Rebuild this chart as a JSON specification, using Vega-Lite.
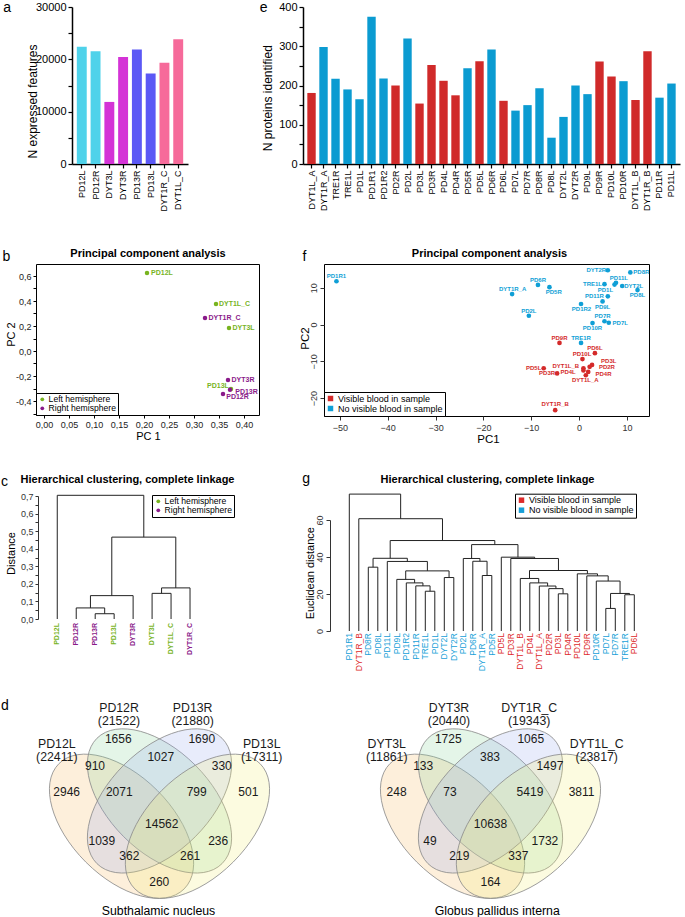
{
  "$schema": "https://vega.github.io/schema/vega-lite/v6.json",
  "padding": 0,
  "background": "white",
  "config": {
    "font": "Liberation Sans",
    "view": {"stroke": null},
    "axis": {"grid": false, "labelColor": "#000", "titleColor": "#000", "tickColor": "#000", "domainColor": "#000", "titleFontWeight": "normal", "labelOverlap": false},
    "legend": {"labelColor": "#000", "labelLimit": 300}
  },
  "columns": 4,
  "spacing": 0,
  "align": "each",
  "bounds": "flush",
  "resolve": {"scale": {"color": "independent", "fill": "independent"}, "legend": {"color": "independent", "fill": "independent"}},
  "concat": [
    {"width": 36, "height": 6, "data": {"values": [{"z": 0}]}, "mark": {"type": "point", "opacity": 0}},
    {"width": 1, "height": 6, "data": {"values": [{"z": 0}]}, "mark": {"type": "point", "opacity": 0}},
    {"width": 38, "height": 6, "data": {"values": [{"z": 0}]}, "mark": {"type": "point", "opacity": 0}},
    {"width": 1, "height": 6, "data": {"values": [{"z": 0}]}, "mark": {"type": "point", "opacity": 0}},

    {"width": 36, "height": 1, "data": {"values": [{"z": 0}]}, "mark": {"type": "point", "opacity": 0}},
    {
      "width": 152, "height": 157,
      "data": {"values": [
        {"sample": "PD12L", "n": 22411, "grp": "PD12"},
        {"sample": "PD12R", "n": 21522, "grp": "PD12"},
        {"sample": "DYT3L", "n": 11861, "grp": "DYT3"},
        {"sample": "DYT3R", "n": 20440, "grp": "DYT3"},
        {"sample": "PD13R", "n": 21880, "grp": "PD13"},
        {"sample": "PD13L", "n": 17311, "grp": "PD13"},
        {"sample": "DYT1R_C", "n": 19343, "grp": "DYT1_C"},
        {"sample": "DYT1L_C", "n": 23817, "grp": "DYT1_C"}
      ]},
      "mark": {"type": "bar"},
      "encoding": {
        "x": {"field": "sample", "type": "nominal", "sort": null,
          "scale": {"range": [36, 152], "paddingInner": 0.28, "paddingOuter": 0.35},
          "axis": {"labelAngle": -90, "labelFontSize": 9, "tickSize": 4, "tickWidth": 1.2, "domainWidth": 1.5, "labelPadding": 2,
            "title": "a", "titleFontSize": 14, "titleAngle": 0, "titleX": -33.3, "titleY": -153, "titleAlign": "left", "titleBaseline": "alphabetic"}},
        "y": {"field": "n", "type": "quantitative", "scale": {"domain": [0, 30000], "nice": false},
          "axis": {"offset": -36, "values": [0, 5000, 10000, 15000, 20000, 25000, 30000], "labelExpr": "datum.value % 10000 == 0 ? '' + datum.value : ''",
            "labelFontSize": 11, "tickSize": 4, "tickWidth": 1.2, "domainWidth": 1.5, "labelPadding": 2,
            "title": "N expressed features", "titleFontSize": 12, "titleAngle": 270, "titleX": -40, "titleY": 94, "titleAlign": "center", "titleBaseline": "middle"}},
        "color": {"field": "grp", "type": "nominal",
          "scale": {"domain": ["PD12", "DYT3", "PD13", "DYT1_C"], "range": ["#4fd2ea", "#d433d6", "#5b58f5", "#f66a9a"]}, "legend": null}
      }
    },
    {"width": 38, "height": 1, "data": {"values": [{"z": 0}]}, "mark": {"type": "point", "opacity": 0}},
    {
      "width": 356, "height": 157,
      "data": {"values": [
        {"sample": "DYT1L_A", "n": 181, "blood": "Visible blood in sample"},
        {"sample": "DYT1R_A", "n": 298, "blood": "No visible blood in sample"},
        {"sample": "TRE1R", "n": 217, "blood": "No visible blood in sample"},
        {"sample": "TRE1L", "n": 190, "blood": "No visible blood in sample"},
        {"sample": "PD1L", "n": 165, "blood": "No visible blood in sample"},
        {"sample": "PD1R1", "n": 375, "blood": "No visible blood in sample"},
        {"sample": "PD1R2", "n": 218, "blood": "No visible blood in sample"},
        {"sample": "PD2R", "n": 200, "blood": "Visible blood in sample"},
        {"sample": "PD2L", "n": 320, "blood": "No visible blood in sample"},
        {"sample": "PD3L", "n": 154, "blood": "Visible blood in sample"},
        {"sample": "PD3R", "n": 252, "blood": "Visible blood in sample"},
        {"sample": "PD4L", "n": 212, "blood": "Visible blood in sample"},
        {"sample": "PD4R", "n": 175, "blood": "Visible blood in sample"},
        {"sample": "PD5R", "n": 244, "blood": "No visible blood in sample"},
        {"sample": "PD5L", "n": 262, "blood": "Visible blood in sample"},
        {"sample": "PD6R", "n": 292, "blood": "No visible blood in sample"},
        {"sample": "PD6L", "n": 161, "blood": "Visible blood in sample"},
        {"sample": "PD7L", "n": 136, "blood": "No visible blood in sample"},
        {"sample": "PD7R", "n": 150, "blood": "No visible blood in sample"},
        {"sample": "PD8R", "n": 193, "blood": "No visible blood in sample"},
        {"sample": "PD8L", "n": 67, "blood": "No visible blood in sample"},
        {"sample": "DYT2L", "n": 120, "blood": "No visible blood in sample"},
        {"sample": "DYT2R", "n": 200, "blood": "No visible blood in sample"},
        {"sample": "PD9L", "n": 178, "blood": "No visible blood in sample"},
        {"sample": "PD9R", "n": 261, "blood": "Visible blood in sample"},
        {"sample": "PD10L", "n": 223, "blood": "Visible blood in sample"},
        {"sample": "PD10R", "n": 211, "blood": "No visible blood in sample"},
        {"sample": "DYT1L_B", "n": 163, "blood": "Visible blood in sample"},
        {"sample": "DYT1R_B", "n": 287, "blood": "Visible blood in sample"},
        {"sample": "PD11R", "n": 169, "blood": "No visible blood in sample"},
        {"sample": "PD11L", "n": 205, "blood": "No visible blood in sample"}
      ]},
      "mark": {"type": "bar"},
      "encoding": {
        "x": {"field": "sample", "type": "nominal", "sort": null,
          "scale": {"range": [-21, 356], "paddingInner": 0.3, "paddingOuter": 0.36},
          "axis": {"labelAngle": -90, "labelFontSize": 9, "tickSize": 4, "tickWidth": 1.2, "domainWidth": 1.5, "labelPadding": 2,
            "title": "e", "titleFontSize": 14, "titleAngle": 0, "titleX": -64.7, "titleY": -153, "titleAlign": "left", "titleBaseline": "alphabetic"}},
        "y": {"field": "n", "type": "quantitative", "scale": {"domain": [0, 400], "nice": false},
          "axis": {"offset": 21, "values": [0, 50, 100, 150, 200, 250, 300, 350, 400], "labelExpr": "datum.value % 100 == 0 ? '' + datum.value : ''",
            "labelFontSize": 11, "tickSize": 4, "tickWidth": 1.2, "domainWidth": 1.5, "labelPadding": 2,
            "title": "N proteins identified", "titleFontSize": 12, "titleAngle": 270, "titleX": -35.5, "titleY": 90.7, "titleAlign": "center", "titleBaseline": "middle"}},
        "color": {"field": "blood", "type": "nominal",
          "scale": {"domain": ["Visible blood in sample", "No visible blood in sample"], "range": ["#d02a2a", "#0b9bd1"]}, "legend": null}
      }
    },

    {"width": 36, "height": 100, "data": {"values": [{"z": 0}]}, "mark": {"type": "point", "opacity": 0}},
    {"width": 1, "height": 100, "data": {"values": [{"z": 0}]}, "mark": {"type": "point", "opacity": 0}},
    {"width": 38, "height": 100, "data": {"values": [{"z": 0}]}, "mark": {"type": "point", "opacity": 0}},
    {"width": 1, "height": 100, "data": {"values": [{"z": 0}]}, "mark": {"type": "point", "opacity": 0}},

    {"width": 36, "height": 1, "data": {"values": [{"z": 0}]}, "mark": {"type": "point", "opacity": 0}},
    {
      "width": 223, "height": 151,
      "view": {"stroke": "#000", "strokeWidth": 1},
      "data": {"values": [
        {"s": "PD12L", "pc1": 0.206, "pc2": 0.624, "lx": 0.236, "ly": 0.626, "hemi": "Left hemisphere"},
        {"s": "DYT1L_C", "pc1": 0.344, "pc2": 0.376, "lx": 0.381, "ly": 0.378, "hemi": "Left hemisphere"},
        {"s": "DYT1R_C", "pc1": 0.322, "pc2": 0.264, "lx": 0.361, "ly": 0.266, "hemi": "Right hemisphere"},
        {"s": "DYT3L", "pc1": 0.370, "pc2": 0.184, "lx": 0.399, "ly": 0.184, "hemi": "Left hemisphere"},
        {"s": "DYT3R", "pc1": 0.368, "pc2": -0.232, "lx": 0.398, "ly": -0.232, "hemi": "Right hemisphere"},
        {"s": "PD13L", "pc1": 0.374, "pc2": -0.304, "lx": 0.348, "ly": -0.283, "hemi": "Left hemisphere"},
        {"s": "PD13R", "pc1": 0.372, "pc2": -0.310, "lx": 0.405, "ly": -0.325, "hemi": "Right hemisphere"},
        {"s": "PD12R", "pc1": 0.358, "pc2": -0.344, "lx": 0.387, "ly": -0.368, "hemi": "Right hemisphere"}
      ]},
      "layer": [
        {
          "mark": {"type": "point", "filled": true, "size": 20, "opacity": 1},
          "encoding": {
            "x": {"field": "pc1", "type": "quantitative", "scale": {"domain": [-0.016, 0.43], "nice": false, "zero": false},
              "axis": {"orient": "bottom", "values": [0, 0.05, 0.1, 0.15, 0.2, 0.25, 0.3, 0.35, 0.4],
                "labelExpr": "replace(format(datum.value, '.2f'), '.', ',')", "domain": false, "tickSize": 3, "labelFontSize": 9, "labelColor": "#222", "labelPadding": 2,
                "title": "PC 1", "titleFontSize": 11, "titleX": 112, "titleY": 21, "titleAlign": "center", "titleBaseline": "middle"}},
            "y": {"field": "pc2", "type": "quantitative", "scale": {"domain": [-0.512, 0.696], "nice": false, "zero": false},
              "axis": {"orient": "left", "values": [-0.5, -0.4, -0.3, -0.2, -0.1, 0, 0.1, 0.2, 0.3, 0.4, 0.5, 0.6],
                "labelExpr": "abs(round(datum.value * 10)) % 2 == 0 ? replace(replace(format(datum.value, '.1f'), '.', ','), '\u2212', '-') : ''",
                "domain": false, "tickSize": 3, "labelFontSize": 9, "labelColor": "#222", "labelPadding": 2,
                "title": "PC 2", "titleFontSize": 11, "titleAngle": 270, "titleX": -24.3, "titleY": 70, "titleAlign": "center", "titleBaseline": "middle"}},
            "color": {"field": "hemi", "type": "nominal",
              "scale": {"domain": ["Left hemisphere", "Right hemisphere"], "range": ["#78b41f", "#8a1a8a"]},
              "legend": {"orient": "bottom-left", "offset": 0, "title": null, "strokeColor": "#000", "fillColor": "#fff", "padding": 2, "labelFontSize": 8.6, "symbolType": "circle", "symbolSize": 14, "rowPadding": 0, "labelOffset": 2}}
          }
        },
        {
          "mark": {"type": "text", "fontSize": 7, "fontWeight": "bold"},
          "encoding": {
            "x": {"field": "lx", "type": "quantitative", "scale": {"domain": [-0.016, 0.43], "nice": false, "zero": false},
              "axis": {"orient": "top", "domain": false, "ticks": false, "labels": false, "title": "Principal component analysis", "titleFontSize": 11, "titleFontWeight": "bold", "titleX": 111.5, "titleY": -8, "titleAlign": "center", "titleBaseline": "alphabetic"}},
            "y": {"field": "ly", "type": "quantitative", "scale": {"domain": [-0.512, 0.696], "nice": false, "zero": false},
              "axis": {"orient": "right", "domain": false, "ticks": false, "labels": false, "title": "b", "titleFontSize": 14, "titleAngle": 0, "titleX": -257, "titleY": -4, "titleAlign": "left", "titleBaseline": "alphabetic"}},
            "text": {"field": "s"},
            "color": {"field": "hemi", "type": "nominal"}
          }
        }
      ],
      "resolve": {"axis": {"x": "independent", "y": "independent"}}
    },
    {"width": 38, "height": 1, "data": {"values": [{"z": 0}]}, "mark": {"type": "point", "opacity": 0}},
    {
      "width": 325, "height": 152,
      "view": {"stroke": "#000", "strokeWidth": 1},
      "data": {"values": [
        {"s": "PD1R1", "pc1": -50.7, "pc2": 11.8, "lx": -50.7, "ly": 13.1, "blood": "No visible blood in sample"},
        {"s": "PD6R", "pc1": -8.6, "pc2": 10.8, "lx": -8.6, "ly": 12.1, "blood": "No visible blood in sample"},
        {"s": "PD5R", "pc1": -6.2, "pc2": 10.2, "lx": -5.3, "ly": 9.0, "blood": "No visible blood in sample"},
        {"s": "DYT1R_A", "pc1": -14.0, "pc2": 8.3, "lx": -13.9, "ly": 9.8, "blood": "No visible blood in sample"},
        {"s": "PD2L", "pc1": -10.5, "pc2": 2.4, "lx": -10.5, "ly": 3.8, "blood": "No visible blood in sample"},
        {"s": "DYT2R", "pc1": 6.0, "pc2": 14.8, "lx": 3.6, "ly": 14.8, "blood": "No visible blood in sample"},
        {"s": "PD8R", "pc1": 10.7, "pc2": 14.2, "lx": 13.0, "ly": 14.2, "blood": "No visible blood in sample"},
        {"s": "TRE1L", "pc1": 5.3, "pc2": 11.0, "lx": 2.8, "ly": 11.0, "blood": "No visible blood in sample"},
        {"s": "PD11L", "pc1": 7.7, "pc2": 11.4, "lx": 8.3, "ly": 12.7, "blood": "No visible blood in sample"},
        {"s": "PD1L", "pc1": 7.4, "pc2": 10.9, "lx": 5.5, "ly": 9.4, "blood": "No visible blood in sample"},
        {"s": "DYT2L", "pc1": 9.0, "pc2": 10.5, "lx": 11.4, "ly": 10.4, "blood": "No visible blood in sample"},
        {"s": "PD8L", "pc1": 12.2, "pc2": 9.4, "lx": 12.2, "ly": 8.1, "blood": "No visible blood in sample"},
        {"s": "PD11R", "pc1": 6.0, "pc2": 7.7, "lx": 3.2, "ly": 7.8, "blood": "No visible blood in sample"},
        {"s": "PD9L", "pc1": 4.9, "pc2": 6.3, "lx": 4.9, "ly": 4.9, "blood": "No visible blood in sample"},
        {"s": "PD1R2", "pc1": 0.4, "pc2": 5.6, "lx": 0.5, "ly": 4.2, "blood": "No visible blood in sample"},
        {"s": "PD7R", "pc1": 5.3, "pc2": 0.9, "lx": 4.9, "ly": 2.3, "blood": "No visible blood in sample"},
        {"s": "PD7L", "pc1": 6.2, "pc2": 0.5, "lx": 8.6, "ly": 0.5, "blood": "No visible blood in sample"},
        {"s": "PD10R", "pc1": 2.8, "pc2": 0.4, "lx": 2.8, "ly": -0.9, "blood": "No visible blood in sample"},
        {"s": "TRE1R", "pc1": 0.4, "pc2": -5.0, "lx": 0.4, "ly": -3.6, "blood": "No visible blood in sample"},
        {"s": "PD9R", "pc1": -4.1, "pc2": -5.0, "lx": -4.1, "ly": -3.6, "blood": "Visible blood in sample"},
        {"s": "PD6L", "pc1": 3.3, "pc2": -7.8, "lx": 3.3, "ly": -6.3, "blood": "Visible blood in sample"},
        {"s": "PD10L", "pc1": 0.7, "pc2": -9.4, "lx": 0.6, "ly": -8.1, "blood": "Visible blood in sample"},
        {"s": "PD3L", "pc1": 2.7, "pc2": -11.0, "lx": 6.2, "ly": -10.0, "blood": "Visible blood in sample"},
        {"s": "PD2R", "pc1": 2.2, "pc2": -11.5, "lx": 5.8, "ly": -11.6, "blood": "Visible blood in sample"},
        {"s": "DYT1L_B", "pc1": 0.9, "pc2": -11.9, "lx": -2.8, "ly": -11.3, "blood": "Visible blood in sample"},
        {"s": "PD4L", "pc1": 0.9, "pc2": -12.5, "lx": -2.3, "ly": -12.9, "blood": "Visible blood in sample"},
        {"s": "PD4R", "pc1": 1.9, "pc2": -12.9, "lx": 5.1, "ly": -13.5, "blood": "Visible blood in sample"},
        {"s": "DYT1L_A", "pc1": 1.4, "pc2": -13.8, "lx": 1.3, "ly": -15.0, "blood": "Visible blood in sample"},
        {"s": "PD5L", "pc1": -7.4, "pc2": -11.9, "lx": -9.5, "ly": -11.9, "blood": "Visible blood in sample"},
        {"s": "PD3R", "pc1": -4.6, "pc2": -13.3, "lx": -6.7, "ly": -13.3, "blood": "Visible blood in sample"},
        {"s": "DYT1R_B", "pc1": -5.0, "pc2": -23.3, "lx": -5.0, "ly": -21.7, "blood": "Visible blood in sample"}
      ]},
      "layer": [
        {
          "mark": {"type": "point", "filled": true, "size": 22, "opacity": 1},
          "encoding": {
            "x": {"field": "pc1", "type": "quantitative", "scale": {"domain": [-53.3, 14.6], "nice": false, "zero": false},
              "axis": {"orient": "bottom", "values": [-50, -40, -30, -20, -10, 0, 10], "domain": false, "tickSize": 4, "tickColor": "#333", "labelFontSize": 9, "labelColor": "#333", "labelPadding": 3,
                "title": "PC1", "titleFontSize": 11.5, "titleX": 164, "titleY": 23, "titleAlign": "center", "titleBaseline": "middle"}},
            "y": {"field": "pc2", "type": "quantitative", "scale": {"domain": [-24.9, 16.5], "nice": false, "zero": false},
              "axis": {"orient": "left", "values": [-20, -10, 0, 10], "domain": false, "tickSize": 4, "tickColor": "#333", "labelAngle": -90, "labelFontSize": 9, "labelColor": "#333", "labelPadding": 2,
                "title": "PC2", "titleFontSize": 11.5, "titleAngle": 270, "titleX": -19, "titleY": 74, "titleAlign": "center", "titleBaseline": "middle"}},
            "color": {"field": "blood", "type": "nominal",
              "scale": {"domain": ["Visible blood in sample", "No visible blood in sample"], "range": ["#d42a2a", "#0f9fd6"]},
              "legend": {"orient": "bottom-left", "offset": 0, "title": null, "strokeColor": "#000", "fillColor": "#fff", "padding": 2, "labelFontSize": 9, "symbolType": "square", "symbolSize": 30, "rowPadding": 0, "labelOffset": 3}}
          }
        },
        {
          "mark": {"type": "text", "fontSize": 6, "fontWeight": "bold"},
          "encoding": {
            "x": {"field": "lx", "type": "quantitative", "scale": {"domain": [-53.3, 14.6], "nice": false, "zero": false},
              "axis": {"orient": "top", "domain": false, "ticks": false, "labels": false, "title": "Principal component analysis", "titleFontSize": 11, "titleFontWeight": "bold", "titleX": 165, "titleY": -8, "titleAlign": "center", "titleBaseline": "alphabetic"}},
            "y": {"field": "ly", "type": "quantitative", "scale": {"domain": [-24.9, 16.5], "nice": false, "zero": false},
              "axis": {"orient": "right", "domain": false, "ticks": false, "labels": false, "title": "f", "titleFontSize": 14, "titleAngle": 0, "titleX": -347, "titleY": -4, "titleAlign": "left", "titleBaseline": "alphabetic"}},
            "text": {"field": "s"},
            "color": {"field": "blood", "type": "nominal"}
          }
        }
      ],
      "resolve": {"axis": {"x": "independent", "y": "independent"}}
    },

    {"width": 36, "height": 80, "data": {"values": [{"z": 0}]}, "mark": {"type": "point", "opacity": 0}},
    {"width": 1, "height": 80, "data": {"values": [{"z": 0}]}, "mark": {"type": "point", "opacity": 0}},
    {"width": 38, "height": 80, "data": {"values": [{"z": 0}]}, "mark": {"type": "point", "opacity": 0}},
    {"width": 1, "height": 80, "data": {"values": [{"z": 0}]}, "mark": {"type": "point", "opacity": 0}},

    {"width": 36, "height": 1, "data": {"values": [{"z": 0}]}, "mark": {"type": "point", "opacity": 0}},
    {
      "width": 180, "height": 123,
      "layer": [
        {
          "data": {"values": [
            {"xl": 2, "xr": 3, "hl": 0, "hr": 0, "h": 0.030},
            {"xl": 1, "xr": 2.5, "hl": 0, "hr": 0.030, "h": 0.063},
            {"xl": 1.75, "xr": 4, "hl": 0.063, "hr": 0, "h": 0.133},
            {"xl": 5, "xr": 6, "hl": 0, "hr": 0, "h": 0.146},
            {"xl": 5.5, "xr": 7, "hl": 0.146, "hr": 0, "h": 0.177},
            {"xl": 2.875, "xr": 6.25, "hl": 0.133, "hr": 0.177, "h": 0.466},
            {"xl": 0, "xr": 4.5625, "hl": 0, "hr": 0.466, "h": 0.704}
          ]},
          "layer": [
            {
              "mark": {"type": "rule", "color": "#222", "strokeWidth": 1},
              "encoding": {
                "x": {"field": "xl", "type": "quantitative", "scale": {"domain": [-1.121, 8.37], "nice": false, "zero": false},
                  "axis": {"orient": "bottom", "domain": false, "ticks": false, "labels": false, "title": "c", "titleFontSize": 14, "titleAngle": 0, "titleX": -35.5, "titleY": -134, "titleAlign": "left", "titleBaseline": "alphabetic"}},
                "x2": {"field": "xr"},
                "y": {"field": "h", "type": "quantitative", "scale": {"domain": [0, 0.7], "nice": false, "zero": false},
                  "axis": {"orient": "left", "offset": -2, "values": [0, 0.05, 0.1, 0.15, 0.2, 0.25, 0.3, 0.35, 0.4, 0.45, 0.5, 0.55, 0.6, 0.65, 0.7],
                    "labelExpr": "round(datum.value * 100) % 10 == 0 ? replace(format(datum.value, '.1f'), '.', ',') : ''",
                    "labelFontSize": 9, "labelColor": "#333", "tickSize": 3, "tickColor": "#333", "domainColor": "#333", "labelPadding": 2,
                    "title": "Distance", "titleFontSize": 11, "titleAngle": 270, "titleX": -26.3, "titleY": 57, "titleAlign": "center", "titleBaseline": "middle"}}
              }
            },
            {
              "mark": {"type": "rule", "color": "#222", "strokeWidth": 1},
              "encoding": {
                "x": {"field": "xl", "type": "quantitative", "scale": {"domain": [-1.121, 8.37], "nice": false, "zero": false}, "axis": null},
                "y": {"field": "hl", "type": "quantitative", "scale": {"domain": [0, 0.7], "nice": false, "zero": false}, "axis": null},
                "y2": {"field": "h"}
              }
            },
            {
              "mark": {"type": "rule", "color": "#222", "strokeWidth": 1},
              "encoding": {
                "x": {"field": "xr", "type": "quantitative", "scale": {"domain": [-1.121, 8.37], "nice": false, "zero": false}, "axis": null},
                "y": {"field": "hr", "type": "quantitative", "scale": {"domain": [0, 0.7], "nice": false, "zero": false}, "axis": null},
                "y2": {"field": "h"}
              }
            }
          ],
          "resolve": {"axis": {"x": "independent", "y": "independent"}}
        },
        {
          "data": {"values": [
            {"i": 0, "name": "PD12L", "hemi": "Left hemisphere"},
            {"i": 1, "name": "PD12R", "hemi": "Right hemisphere"},
            {"i": 2, "name": "PD13R", "hemi": "Right hemisphere"},
            {"i": 3, "name": "PD13L", "hemi": "Left hemisphere"},
            {"i": 4, "name": "DYT3R", "hemi": "Right hemisphere"},
            {"i": 5, "name": "DYT3L", "hemi": "Left hemisphere"},
            {"i": 6, "name": "DYT1L_C", "hemi": "Left hemisphere"},
            {"i": 7, "name": "DYT1R_C", "hemi": "Right hemisphere"}
          ]},
          "mark": {"type": "text", "angle": 270, "align": "right", "baseline": "middle", "dx": -4, "fontSize": 7, "fontWeight": "bold"},
          "encoding": {
            "x": {"field": "i", "type": "quantitative", "scale": {"domain": [-1.121, 8.37], "nice": false, "zero": false},
              "axis": {"orient": "top", "domain": false, "ticks": false, "labels": false, "title": "Hierarchical clustering, complete linkage", "titleFontSize": 11, "titleFontWeight": "bold", "titleX": 91, "titleY": -14, "titleAlign": "center", "titleBaseline": "alphabetic"}},
            "y": {"datum": 0, "type": "quantitative", "axis": null},
            "text": {"field": "name"},
            "color": {"field": "hemi", "type": "nominal",
              "scale": {"domain": ["Left hemisphere", "Right hemisphere"], "range": ["#78b41f", "#8a1a8a"]},
              "legend": {"orient": "none", "legendX": 116, "legendY": -1, "title": null, "strokeColor": "#000", "padding": 2, "labelFontSize": 8.6, "symbolType": "circle", "symbolSize": 14, "rowPadding": 0, "labelOffset": 2}}
          }
        }
      ],
      "resolve": {"axis": {"x": "independent", "y": "independent"}}
    },
    {"width": 38, "height": 1, "data": {"values": [{"z": 0}]}, "mark": {"type": "point", "opacity": 0}},
    {
      "width": 320, "height": 135,
      "layer": [
        {
          "data": {"values": [
            {"xl": 8, "xr": 9, "hl": 0, "hr": 0, "h": 21.5},
            {"xl": 7, "xr": 8.5, "hl": 0, "hr": 21.5, "h": 24.4},
            {"xl": 6, "xr": 7.75, "hl": 0, "hr": 24.4, "h": 26.0},
            {"xl": 5, "xr": 6.875, "hl": 0, "hr": 26.0, "h": 27.9},
            {"xl": 10, "xr": 11, "hl": 0, "hr": 0, "h": 28.9},
            {"xl": 5.9375, "xr": 10.5, "hl": 27.9, "hr": 28.9, "h": 32.5},
            {"xl": 4, "xr": 8.21875, "hl": 0, "hr": 32.5, "h": 37.6},
            {"xl": 2, "xr": 3, "hl": 0, "hr": 0, "h": 34.5},
            {"xl": 2.5, "xr": 6.109, "hl": 34.5, "hr": 37.6, "h": 39.3},
            {"xl": 14, "xr": 15, "hl": 0, "hr": 0, "h": 30.0},
            {"xl": 13, "xr": 14.5, "hl": 0, "hr": 30.0, "h": 37.7},
            {"xl": 12, "xr": 13.75, "hl": 0, "hr": 37.7, "h": 39.2},
            {"xl": 22, "xr": 23, "hl": 0, "hr": 0, "h": 20.1},
            {"xl": 21, "xr": 22.5, "hl": 0, "hr": 20.1, "h": 22.9},
            {"xl": 20, "xr": 21.75, "hl": 0, "hr": 22.9, "h": 24.3},
            {"xl": 19, "xr": 20.875, "hl": 0, "hr": 24.3, "h": 26.0},
            {"xl": 18, "xr": 19.9375, "hl": 0, "hr": 26.0, "h": 28.4},
            {"xl": 27, "xr": 28, "hl": 0, "hr": 0, "h": 12.2},
            {"xl": 29, "xr": 30, "hl": 0, "hr": 0, "h": 19.6},
            {"xl": 27.5, "xr": 29.5, "hl": 12.2, "hr": 19.6, "h": 20.3},
            {"xl": 26, "xr": 28.5, "hl": 0, "hr": 20.3, "h": 27.0},
            {"xl": 25, "xr": 27.25, "hl": 0, "hr": 27.0, "h": 29.8},
            {"xl": 24, "xr": 26.125, "hl": 0, "hr": 29.8, "h": 30.9},
            {"xl": 18.969, "xr": 25.0625, "hl": 28.4, "hr": 30.9, "h": 32.7},
            {"xl": 17, "xr": 22.016, "hl": 0, "hr": 32.7, "h": 39.2},
            {"xl": 16, "xr": 19.508, "hl": 0, "hr": 39.2, "h": 39.9},
            {"xl": 12.875, "xr": 17.754, "hl": 39.2, "hr": 39.9, "h": 46.7},
            {"xl": 4.305, "xr": 15.315, "hl": 39.3, "hr": 46.7, "h": 48.9},
            {"xl": 1, "xr": 9.81, "hl": 0, "hr": 48.9, "h": 60.7},
            {"xl": 0, "xr": 5.405, "hl": 0, "hr": 60.7, "h": 74.0}
          ]},
          "layer": [
            {
              "mark": {"type": "rule", "color": "#222", "strokeWidth": 1},
              "encoding": {
                "x": {"field": "xl", "type": "quantitative", "scale": {"domain": [-2.663, 31.02], "nice": false, "zero": false},
                  "axis": {"orient": "bottom", "domain": false, "ticks": false, "labels": false, "title": "g", "titleFontSize": 14, "titleAngle": 0, "titleX": -22.3, "titleY": -149, "titleAlign": "left", "titleBaseline": "alphabetic"}},
                "x2": {"field": "xr"},
                "y": {"field": "h", "type": "quantitative", "scale": {"domain": [0, 60], "range": [135, 24], "nice": false, "zero": false},
                  "axis": {"orient": "left", "offset": -6, "values": [0, 20, 40, 60], "labelAngle": -90, "labelFontSize": 9, "labelColor": "#333", "tickSize": 4, "tickColor": "#333", "domainColor": "#333", "labelPadding": 2,
                    "title": "Euclidean distance", "titleFontSize": 11, "titleAngle": 270, "titleX": -20, "titleY": 76.7, "titleAlign": "center", "titleBaseline": "middle"}}
              }
            },
            {
              "mark": {"type": "rule", "color": "#222", "strokeWidth": 1},
              "encoding": {
                "x": {"field": "xl", "type": "quantitative", "scale": {"domain": [-2.663, 31.02], "nice": false, "zero": false}, "axis": null},
                "y": {"field": "hl", "type": "quantitative", "scale": {"domain": [0, 60], "range": [135, 24], "nice": false, "zero": false}, "axis": null},
                "y2": {"field": "h"}
              }
            },
            {
              "mark": {"type": "rule", "color": "#222", "strokeWidth": 1},
              "encoding": {
                "x": {"field": "xr", "type": "quantitative", "scale": {"domain": [-2.663, 31.02], "nice": false, "zero": false}, "axis": null},
                "y": {"field": "hr", "type": "quantitative", "scale": {"domain": [0, 60], "range": [135, 24], "nice": false, "zero": false}, "axis": null},
                "y2": {"field": "h"}
              }
            }
          ],
          "resolve": {"axis": {"x": "independent", "y": "independent"}}
        },
        {
          "data": {"values": [
            {"i": 0, "name": "PD1R1", "blood": "No visible blood in sample"},
            {"i": 1, "name": "DYT1R_B", "blood": "Visible blood in sample"},
            {"i": 2, "name": "PD8R", "blood": "No visible blood in sample"},
            {"i": 3, "name": "PD8L", "blood": "No visible blood in sample"},
            {"i": 4, "name": "PD11L", "blood": "No visible blood in sample"},
            {"i": 5, "name": "PD9L", "blood": "No visible blood in sample"},
            {"i": 6, "name": "PD1R2", "blood": "No visible blood in sample"},
            {"i": 7, "name": "PD11R", "blood": "No visible blood in sample"},
            {"i": 8, "name": "TRE1L", "blood": "No visible blood in sample"},
            {"i": 9, "name": "PD1L", "blood": "No visible blood in sample"},
            {"i": 10, "name": "DYT2L", "blood": "No visible blood in sample"},
            {"i": 11, "name": "DYT2R", "blood": "No visible blood in sample"},
            {"i": 12, "name": "PD2L", "blood": "No visible blood in sample"},
            {"i": 13, "name": "PD6R", "blood": "No visible blood in sample"},
            {"i": 14, "name": "DYT1R_A", "blood": "No visible blood in sample"},
            {"i": 15, "name": "PD5R", "blood": "No visible blood in sample"},
            {"i": 16, "name": "PD5L", "blood": "Visible blood in sample"},
            {"i": 17, "name": "PD3R", "blood": "Visible blood in sample"},
            {"i": 18, "name": "DYT1L_B", "blood": "Visible blood in sample"},
            {"i": 19, "name": "PD4L", "blood": "Visible blood in sample"},
            {"i": 20, "name": "DYT1L_A", "blood": "Visible blood in sample"},
            {"i": 21, "name": "PD2R", "blood": "Visible blood in sample"},
            {"i": 22, "name": "PD3L", "blood": "Visible blood in sample"},
            {"i": 23, "name": "PD4R", "blood": "Visible blood in sample"},
            {"i": 24, "name": "PD10L", "blood": "Visible blood in sample"},
            {"i": 25, "name": "PD9R", "blood": "Visible blood in sample"},
            {"i": 26, "name": "PD10R", "blood": "No visible blood in sample"},
            {"i": 27, "name": "PD7L", "blood": "No visible blood in sample"},
            {"i": 28, "name": "PD7R", "blood": "No visible blood in sample"},
            {"i": 29, "name": "TRE1R", "blood": "No visible blood in sample"},
            {"i": 30, "name": "PD6L", "blood": "Visible blood in sample"}
          ]},
          "mark": {"type": "text", "angle": 270, "align": "right", "baseline": "middle", "dx": -2, "fontSize": 8.5},
          "encoding": {
            "x": {"field": "i", "type": "quantitative", "scale": {"domain": [-2.663, 31.02], "nice": false, "zero": false},
              "axis": {"orient": "top", "domain": false, "ticks": false, "labels": false, "title": "Hierarchical clustering, complete linkage", "titleFontSize": 11, "titleFontWeight": "bold", "titleX": 163, "titleY": -14, "titleAlign": "center", "titleBaseline": "alphabetic"}},
            "y": {"datum": 0, "type": "quantitative", "scale": {"domain": [0, 60], "range": [135, 24], "nice": false, "zero": false}, "axis": null},
            "text": {"field": "name"},
            "color": {"field": "blood", "type": "nominal",
              "scale": {"domain": ["Visible blood in sample", "No visible blood in sample"], "range": ["#dd2a2a", "#179fd8"]},
              "legend": {"orient": "none", "legendX": 191, "legendY": -2.3, "title": null, "strokeColor": "#000", "padding": 2, "labelFontSize": 9, "symbolType": "square", "symbolSize": 30, "rowPadding": 0, "labelOffset": 3}}
          }
        }
      ],
      "resolve": {"axis": {"x": "independent", "y": "independent"}}
    },

    {"width": 36, "height": 61, "data": {"values": [{"z": 0}]}, "mark": {"type": "point", "opacity": 0}},
    {"width": 1, "height": 61, "data": {"values": [{"z": 0}]}, "mark": {"type": "point", "opacity": 0}},
    {"width": 38, "height": 61, "data": {"values": [{"z": 0}]}, "mark": {"type": "point", "opacity": 0}},
    {"width": 1, "height": 61, "data": {"values": [{"z": 0}]}, "mark": {"type": "point", "opacity": 0}},

    {"width": 36, "height": 1, "data": {"values": [{"z": 0}]}, "mark": {"type": "point", "opacity": 0}},
    {
      "width": 250, "height": 228,
      "layer": [
        {
          "data": {"values": [
            {"set": "PD12L", "slot": "1", "u": 0.35, "v": 0.47, "tilt": 45},
            {"set": "PD12R", "slot": "2", "u": 0.5, "v": 0.57, "tilt": 45},
            {"set": "PD13R", "slot": "3", "u": 0.5, "v": 0.57, "tilt": 135},
            {"set": "PD13L", "slot": "4", "u": 0.65, "v": 0.47, "tilt": 135}
          ]},
          "mark": {"type": "point", "shape": "M 1 0 C 1 0.3156 0.5523 0.5714 0 0.5714 C -0.5523 0.5714 -1 0.3156 -1 0 C -1 -0.3156 -0.5523 -0.5714 0 -0.5714 C 0.5523 -0.5714 1 -0.3156 1 0 Z",
            "size": 31364, "filled": true, "opacity": 1, "fillOpacity": 0.22, "stroke": "#8c8c8c", "strokeWidth": 0.8, "strokeOpacity": 1},
          "encoding": {
            "x": {"field": "u", "type": "quantitative", "scale": {"domain": [0.0119, 1], "nice": false, "zero": false},
              "axis": {"orient": "bottom", "domain": false, "ticks": false, "labels": false, "title": "Subthalamic nucleus", "titleFontSize": 12.3, "titleX": 122, "titleY": -6, "titleAlign": "center", "titleBaseline": "alphabetic"}},
            "y": {"field": "v", "type": "quantitative", "scale": {"domain": [0.1, 1.0], "nice": false, "zero": false},
              "axis": {"orient": "left", "domain": false, "ticks": false, "labels": false, "title": "d", "titleFontSize": 14, "titleAngle": 0, "titleX": -35.5, "titleY": 17, "titleAlign": "left", "titleBaseline": "alphabetic"}},
            "angle": {"field": "tilt", "type": "quantitative", "scale": null},
            "fill": {"field": "slot", "type": "nominal", "scale": {"domain": ["1", "2", "3", "4"], "range": ["#f4b45c", "#86d296", "#95a7ef", "#f0ee70"]}, "legend": null}
          }
        },
        {
          "data": {"values": [
            {"n": 2946, "u": 0.133, "v": 0.605},
            {"n": 1656, "u": 0.337, "v": 0.816},
            {"n": 1690, "u": 0.667, "v": 0.816},
            {"n": 501, "u": 0.851, "v": 0.605},
            {"n": 910, "u": 0.245, "v": 0.707},
            {"n": 1027, "u": 0.505, "v": 0.742},
            {"n": 330, "u": 0.746, "v": 0.707},
            {"n": 2071, "u": 0.341, "v": 0.605},
            {"n": 799, "u": 0.647, "v": 0.605},
            {"n": 14562, "u": 0.509, "v": 0.479},
            {"n": 1039, "u": 0.272, "v": 0.413},
            {"n": 236, "u": 0.732, "v": 0.413},
            {"n": 362, "u": 0.381, "v": 0.351},
            {"n": 261, "u": 0.621, "v": 0.351},
            {"n": 260, "u": 0.499, "v": 0.249}
          ]},
          "mark": {"type": "text", "fontSize": 12, "color": "#1a1a1a"},
          "encoding": {
            "x": {"field": "u", "type": "quantitative", "scale": {"domain": [0.0119, 1], "nice": false, "zero": false}, "axis": null},
            "y": {"field": "v", "type": "quantitative", "scale": {"domain": [0.1, 1.0], "nice": false, "zero": false}, "axis": null},
            "text": {"field": "n", "type": "quantitative", "format": "d"}
          }
        },
        {
          "data": {"values": [
            {"label": "PD12L\n(22411)", "u": 0.094, "v": 0.793},
            {"label": "PD12R\n(21522)", "u": 0.340, "v": 0.936},
            {"label": "PD13R\n(21880)", "u": 0.631, "v": 0.936},
            {"label": "PD13L\n(17311)", "u": 0.904, "v": 0.793}
          ]},
          "mark": {"type": "text", "fontSize": 12.3, "color": "#1a1a1a", "lineBreak": "\n", "lineHeight": 12.5},
          "encoding": {
            "x": {"field": "u", "type": "quantitative", "scale": {"domain": [0.0119, 1], "nice": false, "zero": false}, "axis": null},
            "y": {"field": "v", "type": "quantitative", "scale": {"domain": [0.1, 1.0], "nice": false, "zero": false}, "axis": null},
            "text": {"field": "label"}
          }
        }
      ],
      "resolve": {"axis": {"x": "independent", "y": "independent"}}
    },
    {"width": 38, "height": 1, "data": {"values": [{"z": 0}]}, "mark": {"type": "point", "opacity": 0}},
    {
      "width": 293, "height": 228,
      "layer": [
        {
          "data": {"values": [
            {"set": "DYT3L", "slot": "1", "u": 0.35, "v": 0.47, "tilt": 45},
            {"set": "DYT3R", "slot": "2", "u": 0.5, "v": 0.57, "tilt": 45},
            {"set": "DYT1R_C", "slot": "3", "u": 0.5, "v": 0.57, "tilt": 135},
            {"set": "DYT1L_C", "slot": "4", "u": 0.65, "v": 0.47, "tilt": 135}
          ]},
          "mark": {"type": "point", "shape": "M 1 0 C 1 0.3156 0.5523 0.5714 0 0.5714 C -0.5523 0.5714 -1 0.3156 -1 0 C -1 -0.3156 -0.5523 -0.5714 0 -0.5714 C 0.5523 -0.5714 1 -0.3156 1 0 Z",
            "size": 31364, "filled": true, "opacity": 1, "fillOpacity": 0.22, "stroke": "#8c8c8c", "strokeWidth": 0.8, "strokeOpacity": 1},
          "encoding": {
            "x": {"field": "u", "type": "quantitative", "scale": {"domain": [-0.158, 1], "nice": false, "zero": false},
              "axis": {"orient": "bottom", "domain": false, "ticks": false, "labels": false, "title": "Globus pallidus interna", "titleFontSize": 12.3, "titleX": 172.7, "titleY": -6, "titleAlign": "center", "titleBaseline": "alphabetic"}},
            "y": {"field": "v", "type": "quantitative", "scale": {"domain": [0.1, 1.0], "nice": false, "zero": false}, "axis": null},
            "angle": {"field": "tilt", "type": "quantitative", "scale": null},
            "fill": {"field": "slot", "type": "nominal", "scale": {"domain": ["1", "2", "3", "4"], "range": ["#f4b45c", "#86d296", "#95a7ef", "#f0ee70"]}, "legend": null}
          }
        },
        {
          "data": {"values": [
            {"n": 248, "u": 0.129, "v": 0.605},
            {"n": 1725, "u": 0.333, "v": 0.816},
            {"n": 1065, "u": 0.659, "v": 0.816},
            {"n": 3811, "u": 0.860, "v": 0.605},
            {"n": 133, "u": 0.234, "v": 0.707},
            {"n": 383, "u": 0.498, "v": 0.742},
            {"n": 1497, "u": 0.735, "v": 0.707},
            {"n": 73, "u": 0.340, "v": 0.605},
            {"n": 5419, "u": 0.656, "v": 0.605},
            {"n": 10638, "u": 0.500, "v": 0.479},
            {"n": 49, "u": 0.261, "v": 0.413},
            {"n": 1732, "u": 0.715, "v": 0.413},
            {"n": 219, "u": 0.377, "v": 0.351},
            {"n": 337, "u": 0.610, "v": 0.351},
            {"n": 164, "u": 0.500, "v": 0.249}
          ]},
          "mark": {"type": "text", "fontSize": 12, "color": "#1a1a1a"},
          "encoding": {
            "x": {"field": "u", "type": "quantitative", "scale": {"domain": [-0.158, 1], "nice": false, "zero": false}, "axis": null},
            "y": {"field": "v", "type": "quantitative", "scale": {"domain": [0.1, 1.0], "nice": false, "zero": false}, "axis": null},
            "text": {"field": "n", "type": "quantitative", "format": "d"}
          }
        },
        {
          "data": {"values": [
            {"label": "DYT3L\n(11861)", "u": 0.090, "v": 0.793},
            {"label": "DYT3R\n(20440)", "u": 0.336, "v": 0.936},
            {"label": "DYT1R_C\n(19343)", "u": 0.653, "v": 0.936},
            {"label": "DYT1L_C\n(23817)", "u": 0.920, "v": 0.793}
          ]},
          "mark": {"type": "text", "fontSize": 12.3, "color": "#1a1a1a", "lineBreak": "\n", "lineHeight": 12.5},
          "encoding": {
            "x": {"field": "u", "type": "quantitative", "scale": {"domain": [-0.158, 1], "nice": false, "zero": false}, "axis": null},
            "y": {"field": "v", "type": "quantitative", "scale": {"domain": [0.1, 1.0], "nice": false, "zero": false}, "axis": null},
            "text": {"field": "label"}
          }
        }
      ],
      "resolve": {"axis": {"x": "independent", "y": "independent"}}
    }
  ]
}
